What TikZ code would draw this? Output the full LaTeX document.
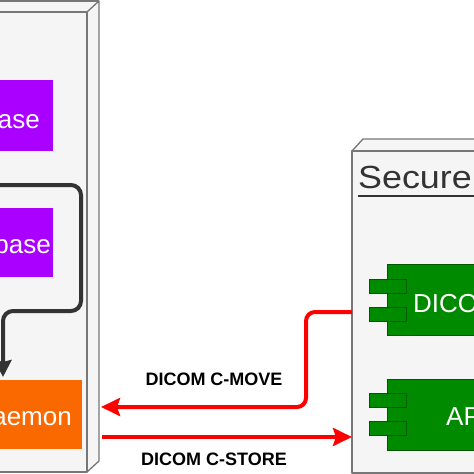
\documentclass[tikz,border=0pt]{standalone}
\usepackage{fontspec}
\setmainfont{Liberation Sans}
\usetikzlibrary{arrows.meta}
\definecolor{boxfill}{HTML}{F5F5F5}
\definecolor{boxline}{HTML}{777777}
\definecolor{purp}{HTML}{AA00FF}
\definecolor{orng}{HTML}{FA6800}
\definecolor{grn}{HTML}{008A00}
\definecolor{grnline}{HTML}{005700}
\definecolor{dark}{HTML}{333333}
\definecolor{redline}{HTML}{FF0000}
\tikzset{
  cubeline/.style={draw=boxline, line width=1.3pt, line join=round},
  pbox/.style={fill=purp, draw=none, inner sep=0pt},
  obox/.style={fill=orng, draw=none, inner sep=0pt},
  gbox/.style={fill=grn, draw=grnline, line width=0.8pt, inner sep=0pt},
  gport/.style={fill=grn, draw=grnline, line width=0.8pt, inner sep=0pt, minimum width=37pt, minimum height=14pt},
  boxtext/.style={text=white, font=\fontsize{26}{30}\selectfont, inner sep=0pt},
  lbl/.style={text=black, font=\bfseries\fontsize{18}{21}\selectfont, inner sep=0pt},
  redarrow/.style={draw=redline, line width=4pt, -{Stealth[length=19pt,width=18pt,inset=3pt]}},
  darkarrow/.style={draw=dark, line width=4pt, -{Stealth[length=17pt,width=17pt,inset=2pt]}}
}
\begin{document}
\begin{tikzpicture}[x=1pt,y=-1pt]
\useasboundingbox (0,0) rectangle (474,474);
\clip (0,0) rectangle (474,474);

% left cube
\fill[boxfill] (-30,1) -- (99,1) -- (99,461) -- (87,472) -- (-30,472) -- cycle;
\draw[cubeline] (-30,12) -- (87,12) -- (87,472) -- (-30,472);
\draw[cubeline] (87,12) -- (99,1) -- (99,461) -- (87,472);
\draw[cubeline] (-30,1) -- (99,1);

% secure cube
\fill[boxfill] (352,151) -- (363,139) -- (480,139) -- (480,473) -- (352,473) -- cycle;
\draw[cubeline] (480,473) -- (352,473) -- (352,151) -- (480,151);
\draw[cubeline] (352,151) -- (363,139) -- (480,139);

% left boxes
\node[pbox, minimum width=120pt, minimum height=71pt] (db1) at (-7,115.5) {};
\node[boxtext, anchor=base east] (db1t) at (40,128) {Database};
\node[pbox, minimum width=120pt, minimum height=69pt] (db2) at (-7,242.5) {};
\node[boxtext, anchor=base east] (db2t) at (51,253) {Database};
\node[obox, minimum width=120pt, minimum height=69pt] (daemon) at (22,414.5) {};
\node[boxtext, anchor=base east] (daemont) at (72,425) {Daemon};

% dark path
\coordinate (dstart) at (-20,185);
\coordinate (dtip) at (3,377);
\draw[darkarrow, rounded corners=10pt] (dstart) -- (81,185) -- (81,311) -- (3,311) -- (dtip);

% secure title
\node[anchor=base west, text=dark, font=\fontsize{32}{38}\selectfont, inner sep=0pt, xscale=1.12] (sectitle) at (358,188) {Secure};
\draw[dark, line width=1.8pt] (358,196) -- (480,196);

% green components
\node[gbox, minimum width=120pt, minimum height=71pt] (dicom) at (447,299.5) {};
\node[gport] (dp1) at (387.5,286) {};
\node[gport] (dp2) at (387.5,314) {};
\node[boxtext, anchor=base west] (dicomt) at (413,312) {DICOM};
\node[gbox, minimum width=120pt, minimum height=71pt] (api) at (447,414.5) {};
\node[gport] (ap1) at (387.5,400.5) {};
\node[gport] (ap2) at (387.5,428.5) {};
\node[boxtext, anchor=base west] (apit) at (446,425) {API};

% red connectors
\coordinate (moveS) at (352,312);
\coordinate (moveE) at (101,407);
\draw[redarrow, rounded corners=9pt] (moveS) -- (306,312) -- (306,407) -- (moveE);
\coordinate (storeS) at (102,437);
\coordinate (storeE) at (352,437);
\draw[redarrow] (storeS) -- (storeE);

\node[lbl] (movelbl) at (214,379) {DICOM C-MOVE};
\node[lbl] (storelbl) at (214,459) {DICOM C-STORE};
\end{tikzpicture}
\end{document}
